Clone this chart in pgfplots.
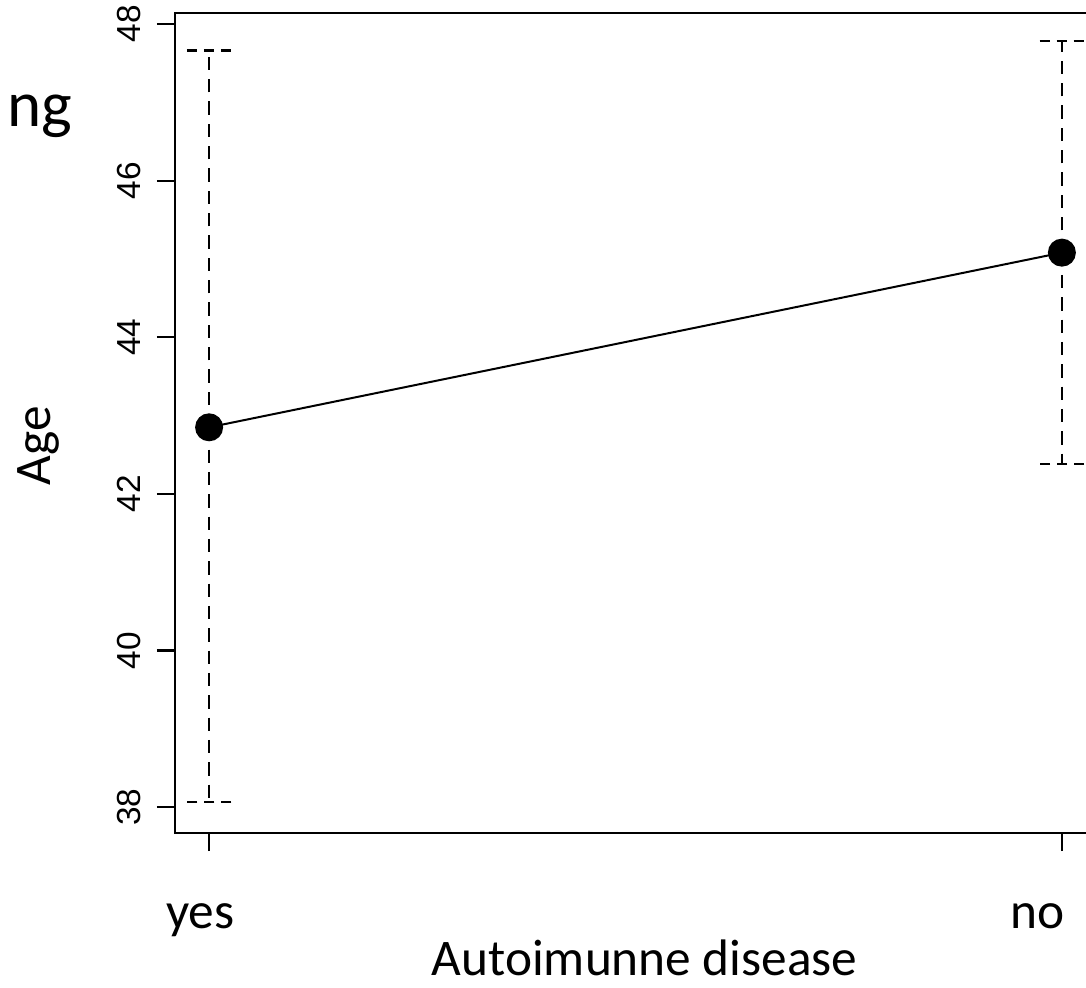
\documentclass[border=0pt]{standalone}
\usepackage{pgfplots}
\pgfplotsset{compat=1.18}
\usepackage{fontspec}
\setmainfont{Carlito}
\newfontfamily\arialfont{Liberation Sans}
\begin{document}
\begin{tikzpicture}
\begin{axis}[
  at={(0,0)}, anchor=south west,
  scale only axis, width=276.3pt, height=246pt,
  xmin=0.96, xmax=2.04, ymin=37.67, ymax=48.14,
  axis line style={line width=0.65pt, black},
  tick align=outside, major tick length=5.4pt,
  tick style={line width=0.65pt, black},
  xtick pos=bottom, ytick pos=left,
  xtick={1,2}, xticklabels={},
  extra x ticks={0.9895,1.9719},
  extra x tick labels={yes,no},
  extra x tick style={major tick length=0pt, tick style={draw=none}},
  xticklabel style={font=\fontsize{15.4}{18}\selectfont, anchor=base, yshift=-28.6pt},
  ytick={38,40,42,44,46,48},
  /pgf/number format/assume math mode=true,
  yticklabel style={rotate=90, anchor=south, inner xsep=1pt, inner ysep=4.6pt, font=\arialfont\fontsize{10}{12}\selectfont},
  xlabel={Autoimunne disease},
  xlabel style={at={(axis description cs:0.510,0)}, anchor=base, yshift=-42.6pt, font=\fontsize{15.4}{18}\selectfont},
  ylabel={Age},
  ylabel style={at={(axis description cs:-0.1357,0.472)}, anchor=base, rotate=0, font=\fontsize{15.4}{18}\selectfont},
]
\addplot[black, line width=0.6pt, mark=*, mark size=3.9pt, mark options={solid},
  error bars/.cd, y dir=both, y explicit,
  error bar style={line width=0.7pt, dash pattern=on 4pt off 2.7pt},
  error mark options={rotate=90, line width=0.7pt, mark size=6.7pt, dash pattern=on 3.2pt off 1.9pt}]
coordinates {
  (1,42.85) += (0,4.81) -= (0,4.78)
  (2,45.08) += (0,2.70) -= (0,2.70)
};
\end{axis}
\node[anchor=base west, font=\fontsize{19.5}{23}\selectfont, inner sep=0pt] at (-50.4pt,211.8pt) {ng};
\pgfresetboundingbox
\path[use as bounding box] (-52.5pt,-46.5pt) rectangle (273.3pt,249.9pt);
\end{tikzpicture}
\end{document}
